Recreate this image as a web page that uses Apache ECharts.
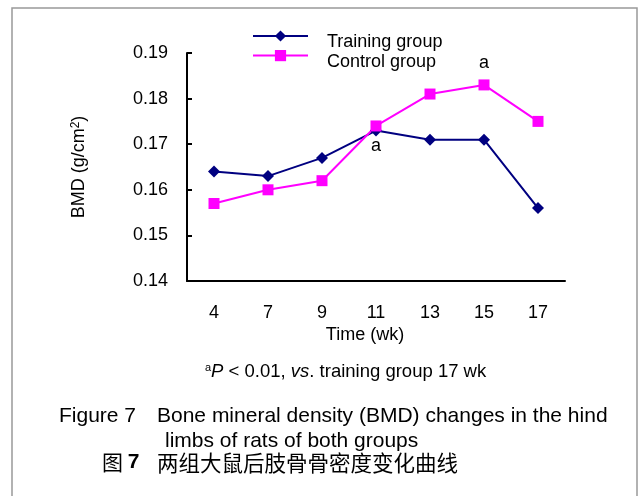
<!DOCTYPE html>
<html>
<head>
<meta charset="utf-8">
<script src="https://cdn.jsdelivr.net/npm/echarts@6/dist/echarts.min.js"></script>
<style>
  html, body { margin: 0; padding: 0; background: #fff; }
  #chart { width: 638px; height: 496px; }
</style>
</head>
<body>
<div id="chart"></div>
<script>
    // data
    const weeks = ['4', '7', '9', '11', '13', '15', '17'];
    const seriesNames = ['Training group', 'Control group'];
    const trainingBMD = [0.164, 0.163, 0.167, 0.173, 0.171, 0.171, 0.156];
    const controlBMD = [0.157, 0.160, 0.162, 0.174, 0.181, 0.183, 0.175];
    // 'a' marks: training at 11 wk, control at 15 wk
    const trainingMarks = ['', '', '', 'a', '', '', ''];
    const controlMarks = ['', '', '', '', '', 'a', ''];

    const font = 'Arial, "Liberation Sans", sans-serif';

    function withMarks(values, marks, pos, dist) {
        return values.map(function (v, i) {
            if (!marks[i]) return v;
            return {
                value: v,
                label: {
                    show: true, formatter: marks[i], position: pos, distance: dist,
                    fontFamily: font, fontSize: 18, color: '#000'
                }
            };
        });
    }

    const myChart = echarts.init(document.getElementById('chart'));
    const option = {
        animation: false,
        backgroundColor: '#fff',
        textStyle: { fontFamily: font },
        // legend draws the icons only, the names sit a bit lower (see graphic)
        legend: {
            orient: 'vertical',
            left: 252,
            top: 29,
            padding: 0,
            itemWidth: 55,
            itemHeight: 14,
            itemGap: 7,
            formatter: function () { return ''; },
            data: seriesNames
        },
        grid: { left: 187, right: 73, top: 53, bottom: 215 },
        xAxis: {
            type: 'category',
            data: weeks,
            boundaryGap: true,
            name: 'Time (wk)',
            nameLocation: 'middle',
            nameGap: 45,
            nameTextStyle: { fontFamily: font, fontSize: 18, color: '#000', padding: [0, 22, 0, 0] },
            axisLine: { lineStyle: { color: '#000', width: 2 } },
            axisTick: { inside: true, length: 5, lineStyle: { color: '#000', width: 2 } },
            axisLabel: { fontFamily: font, fontSize: 18, color: '#000', margin: 23 },
            splitLine: { show: false }
        },
        yAxis: {
            type: 'value',
            min: 0.14,
            max: 0.19,
            interval: 0.01,
            name: 'BMD (g/cm{sup|2})',
            nameLocation: 'middle',
            nameRotate: 90,
            nameGap: 98,
            nameTextStyle: {
                fontFamily: font, fontSize: 18, color: '#000',
                rich: { sup: { fontFamily: font, fontSize: 12, color: '#000', verticalAlign: 'top', padding: [0, 0, 7, 0] } }
            },
            axisLine: { show: true, lineStyle: { color: '#000', width: 2 } },
            axisTick: { show: true, inside: true, length: 5, lineStyle: { color: '#000', width: 2 } },
            axisLabel: {
                fontFamily: font, fontSize: 18, color: '#000', margin: 19,
                formatter: function (v) { return v.toFixed(2); }
            },
            splitLine: { show: false }
        },
        series: [
            {
                name: seriesNames[0],
                type: 'line',
                data: withMarks(trainingBMD, trainingMarks, 'bottom', 1),
                symbol: 'diamond',
                symbolSize: 12,
                itemStyle: { color: '#000080' },
                lineStyle: { color: '#000080', width: 2 }
            },
            {
                name: seriesNames[1],
                type: 'line',
                data: withMarks(controlBMD, controlMarks, 'top', 7),
                symbol: 'rect',
                symbolSize: 11,
                itemStyle: { color: '#ff00ff' },
                lineStyle: { color: '#ff00ff', width: 2 }
            }
        ],
        graphic: [
            {
                type: 'rect',
                shape: { x: 12, y: 8, width: 625, height: 500 },
                style: { fill: 'none', stroke: '#999', lineWidth: 1.5 },
                silent: true
            },
            {
                type: 'text', x: 327, y: 42,
                style: { text: seriesNames[0], fontFamily: font, fontSize: 18, fill: '#000', verticalAlign: 'middle' }
            },
            {
                type: 'text', x: 327, y: 62,
                style: { text: seriesNames[1], fontFamily: font, fontSize: 18, fill: '#000', verticalAlign: 'middle' }
            },
            {
                type: 'text',
                left: 205,
                top: 362,
                style: {
                    text: '{sup|a}{it|P} < 0.01, {it|vs}. training group 17 wk',
                    fontFamily: font, fontSize: 18.5, fill: '#000',
                    rich: {
                        sup: { fontFamily: font, fontSize: 11, verticalAlign: 'top', padding: [0, 0, 8, 0] },
                        it: { fontFamily: font, fontSize: 18.5, fontStyle: 'italic' }
                    }
                }
            },
            {
                type: 'text', left: 59, top: 406,
                style: { text: 'Figure 7', fontFamily: font, fontSize: 21, fill: '#000' }
            },
            {
                type: 'text', left: 157, top: 406,
                style: { text: 'Bone mineral density (BMD) changes in the hind', fontFamily: font, fontSize: 21, fill: '#000' }
            },
            {
                type: 'text', left: 165, top: 431,
                style: { text: 'limbs of rats of both groups', fontFamily: font, fontSize: 21, fill: '#000' }
            },
            {
                type: 'text', left: 102, top: 452,
                style: {
                    text: '图 {b|7}',
                    fontFamily: '"Noto Sans CJK SC", sans-serif', fontSize: 21, fill: '#000',
                    rich: { b: { fontFamily: font, fontSize: 21, fontWeight: 'bold' } }
                }
            },
            {
                type: 'text', left: 157, top: 452,
                style: {
                    text: '两组大鼠后肢骨骨密度变化曲线',
                    fontFamily: '"Noto Sans CJK SC", sans-serif', fontSize: 21.5, fill: '#000'
                }
            }
        ]
    };
    myChart.setOption(option);
</script>
</body>
</html>
